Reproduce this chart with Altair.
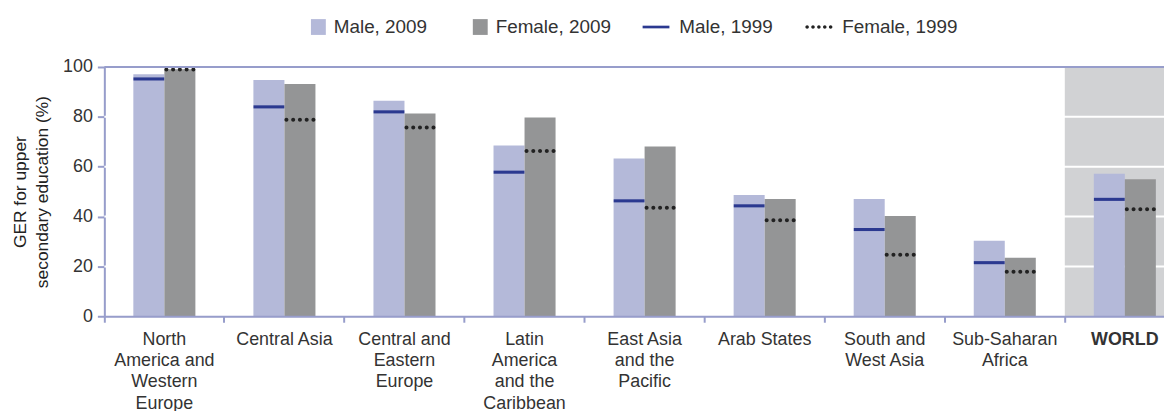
import altair as alt
import pandas as pd

regions = [
    "North\nAmerica and\nWestern\nEurope",
    "Central Asia",
    "Central and\nEastern\nEurope",
    "Latin\nAmerica\nand the\nCaribbean",
    "East Asia\nand the\nPacific",
    "Arab States",
    "South and\nWest Asia",
    "Sub-Saharan\nAfrica",
    "WORLD",
]
male_2009 = [97.1, 94.8, 86.5, 68.5, 63.3, 48.6, 47.0, 30.3, 57.2]
female_2009 = [99.1, 93.2, 81.3, 79.7, 68.1, 47.0, 40.2, 23.5, 55.0]
male_1999 = [95.2, 84.0, 82.0, 57.8, 46.3, 44.3, 34.8, 21.5, 46.9]
female_1999 = [99.0, 78.8, 75.7, 66.3, 43.5, 38.5, 24.7, 17.9, 42.9]
y_ticks = [0, 20, 40, 60, 80, 100]
grid_vals = [20, 40, 60, 80]
highlight = ["WORLD"]

series_all = ["Male, 2009", "Female, 2009", "Male, 1999", "Female, 1999"]
series_colors = ["#b4b9d9", "#949596", "#2b3990", "#222222"]
sexes = ["Male", "Female"]

FONT = "Liberation Sans"
PERI = "#979dcb"
TEXT = "#333333"

bars_df = pd.DataFrame(
    [{"region": r, "sex": "Male", "series": series_all[0], "value": v} for r, v in zip(regions, male_2009)]
    + [{"region": r, "sex": "Female", "series": series_all[1], "value": v} for r, v in zip(regions, female_2009)]
)
marks_df = pd.DataFrame(
    [{"region": r, "sex": "Male", "series": series_all[2], "value": v} for r, v in zip(regions, male_1999)]
    + [{"region": r, "sex": "Female", "series": series_all[3], "value": v} for r, v in zip(regions, female_1999)]
)
grid_df = pd.DataFrame({"v": grid_vals})
top_df = pd.DataFrame({"v": [max(y_ticks)]})
world_df = pd.DataFrame({"region": highlight, "top": [max(y_ticks)], "bottom": [min(y_ticks)]})

# symbol paths in the unit box -1..1 (scaled to the symbol width)
square_path = "M0.04,-0.59L1.15,-0.59L1.15,0.59L0.04,0.59Z"
solid_path = "M-1,-0.1L1,-0.1L1,0.1L-1,0.1Z"
r = 0.13
dot_centers = [-0.877, -0.439, 0.0, 0.439, 0.877]
dotted_path = "".join(
    f"M{c - r:.3f},0a{r},{r} 0 1,0 {2 * r},0a{r},{r} 0 1,0 {-2 * r},0" for c in dot_centers
)
series_shapes = [square_path, square_path, solid_path, dotted_path]

x_scale = alt.Scale(domain=regions, range=[0, 1088], paddingInner=0, paddingOuter=0)
y_scale = alt.Scale(domain=[0, 100], nice=False, zero=True)
off_scale = alt.Scale(domain=sexes, paddingOuter=0.935, paddingInner=0)
color_scale = alt.Scale(domain=series_all, range=series_colors)
shape_scale = alt.Scale(domain=series_all, range=series_shapes)

legend = alt.Legend(
    orient="none",
    legendX=194,
    legendY=-54,
    direction="horizontal",
    title=None,
    symbolSize=729,
    symbolStrokeWidth=0,
    labelFont=FONT,
    labelFontSize=19,
    labelColor=TEXT,
    labelOffset=10,
    columnPadding=31,
    padding=0,
)

x_axis = alt.Axis(
    bandPosition=0,
    tickSize=6,
    tickWidth=2,
    tickColor=PERI,
    domainColor=PERI,
    domainWidth=2,
    labelAngle=0,
    labelExpr="split(datum.label, '\\n')",
    labelFont=FONT,
    labelFontSize=18,
    labelLineHeight=21.5,
    labelPadding=8,
    labelColor=TEXT,
    labelOverlap=False,
    labelFontWeight={"condition": {"test": "datum.value === 'WORLD'", "value": "bold"}, "value": "normal"},
    title=None,
)
y_axis = alt.Axis(
    values=y_ticks,
    grid=False,
    domainColor=PERI,
    domainWidth=2,
    tickColor=PERI,
    tickWidth=2,
    tickSize=7,
    labelFont=FONT,
    labelFontSize=18,
    labelColor=TEXT,
    labelPadding=5,
    title=["GER for upper", "secondary education (%)"],
    titleFont=FONT,
    titleFontSize=17.5,
    titleFontWeight="normal",
    titleColor="#222222",
    titleLineHeight=22,
    titlePadding=11,
)

X = alt.X("region:N", sort=regions, scale=x_scale, axis=x_axis, title=None)

world_bg = alt.Chart(world_df).mark_rect(color="#d1d2d4", clip=True).encode(
    x=X,
    y=alt.Y("top:Q", scale=y_scale, axis=y_axis),
    y2="bottom:Q",
)

grid = alt.Chart(grid_df).mark_rule(color="white", strokeWidth=2).encode(
    y=alt.Y("v:Q", scale=y_scale, axis=y_axis)
)

top_line = alt.Chart(top_df).mark_rule(color=PERI, strokeWidth=2).encode(
    y=alt.Y("v:Q", scale=y_scale, axis=y_axis)
)

bars = alt.Chart(bars_df).mark_bar(opacity=1).encode(
    x=X,
    xOffset=alt.XOffset("sex:N", sort=sexes, scale=off_scale),
    y=alt.Y("value:Q", scale=y_scale, axis=y_axis),
    color=alt.Color("series:N", sort=series_all, scale=color_scale, legend=legend),
)

marks = alt.Chart(marks_df).mark_point(filled=True, opacity=1, size=961, strokeWidth=0).encode(
    x=X,
    xOffset=alt.XOffset("sex:N", sort=sexes, scale=off_scale),
    y=alt.Y("value:Q", scale=y_scale, axis=y_axis),
    color=alt.Color("series:N", sort=series_all, scale=color_scale, legend=legend),
    shape=alt.Shape("series:N", sort=series_all, scale=shape_scale, legend=legend),
)

chart = (
    alt.layer(world_bg, grid, bars, marks, top_line)
    .properties(
        width=1067,
        height=251,
        autosize=alt.AutoSizeParams(type="none"),
        padding={"left": 97, "top": 58, "right": 0, "bottom": 94},
    )
    .configure_view(fill="#eeeeee", stroke=None)
    .configure(background="white")
)

chart.save("out.html", embed_options={"renderer": "svg", "actions": False})
